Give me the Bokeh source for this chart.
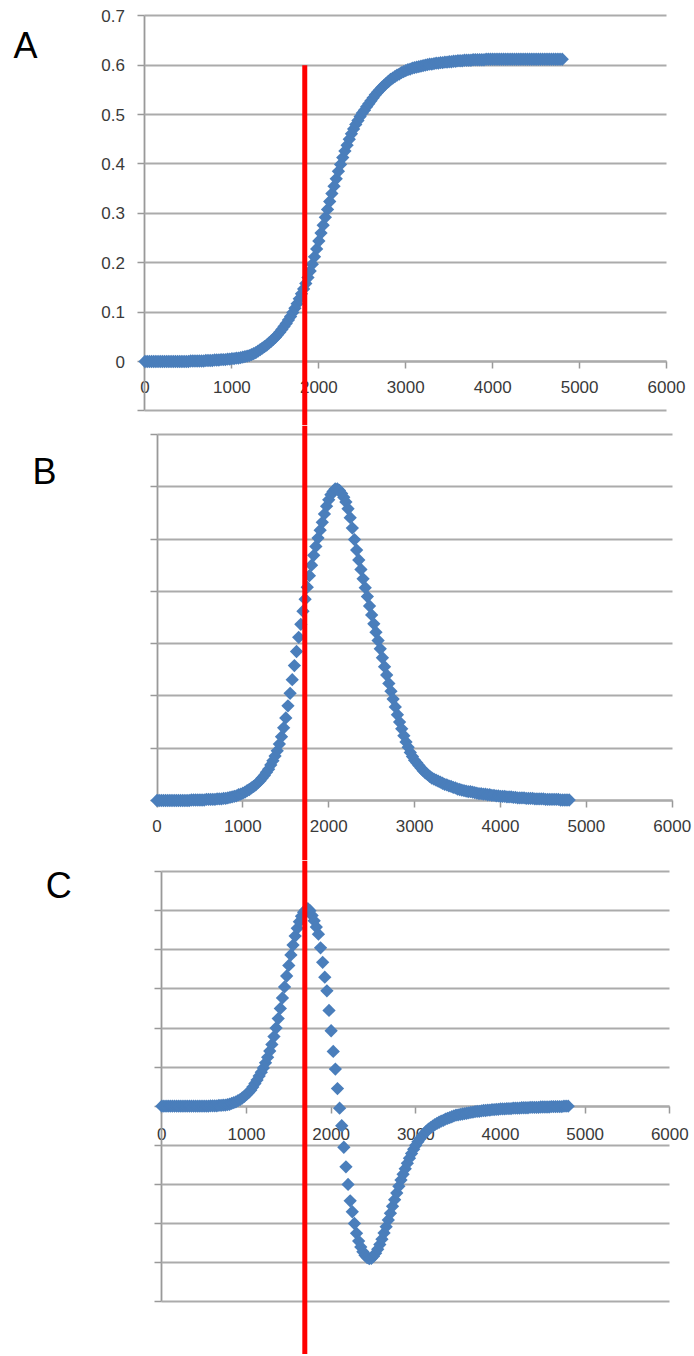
import math
from bokeh.plotting import figure
from bokeh.models import Range1d, FixedTicker, Span, Label, Grid
from bokeh.layouts import column
from bokeh.embed import file_html
from bokeh.resources import INLINE

# ---------------- data ----------------
x_vals = list(range(0, 4801, 25))

# Panel A: cumulative curve
a_vals = [
    0.000, 0.000, 0.000, 0.000, 0.000, 0.000, 0.000, 0.000, 0.000, 0.000,
    0.000, 0.000, 0.000, 0.000, 0.000, 0.000, 0.000, 0.000, 0.000, 0.000,
    0.000, 0.001, 0.001, 0.001, 0.001, 0.001, 0.001, 0.001, 0.002, 0.002,
    0.002, 0.002, 0.003, 0.003, 0.003, 0.004, 0.004, 0.004, 0.005, 0.005,
    0.006, 0.006, 0.007, 0.007, 0.008, 0.009, 0.010, 0.011, 0.012, 0.014,
    0.016, 0.018, 0.021, 0.024, 0.027, 0.030, 0.033, 0.037, 0.041, 0.045,
    0.049, 0.054, 0.059, 0.065, 0.071, 0.077, 0.084, 0.091, 0.099, 0.108,
    0.117, 0.127, 0.137, 0.147, 0.158, 0.170, 0.183, 0.197, 0.212, 0.228,
    0.244, 0.260, 0.276, 0.292, 0.308, 0.324, 0.340, 0.355, 0.370, 0.385,
    0.399, 0.413, 0.426, 0.438, 0.450, 0.461, 0.471, 0.480, 0.488, 0.496,
    0.503, 0.509, 0.516, 0.522, 0.528, 0.534, 0.540, 0.545, 0.550, 0.555,
    0.559, 0.563, 0.567, 0.571, 0.574, 0.577, 0.580, 0.582, 0.585, 0.587,
    0.589, 0.591, 0.592, 0.594, 0.595, 0.596, 0.597, 0.598, 0.599, 0.600,
    0.601, 0.602, 0.602, 0.603, 0.604, 0.604, 0.605, 0.605, 0.606, 0.606,
    0.607, 0.607, 0.608, 0.608, 0.609, 0.609, 0.609, 0.610, 0.610, 0.610,
    0.610, 0.611, 0.611, 0.611, 0.611, 0.611, 0.611, 0.612, 0.612, 0.612,
    0.612, 0.612, 0.612, 0.612, 0.612, 0.612, 0.612, 0.612, 0.612, 0.612,
    0.612, 0.612, 0.612, 0.612, 0.612, 0.612, 0.612, 0.612, 0.612, 0.612,
    0.612, 0.612, 0.612, 0.612, 0.612, 0.612, 0.612, 0.612, 0.612, 0.612,
    0.612, 0.612, 0.612,
]

# Panel B: first derivative (units of 1e-4)
b_vals = [
    0.00, 0.00, 0.00, 0.00, 0.00, 0.00, 0.00, 0.00, 0.00, 0.00,
    0.00, 0.00, 0.00, 0.00, 0.00, 0.00, 0.01, 0.01, 0.01, 0.01,
    0.01, 0.01, 0.01, 0.02, 0.02, 0.02, 0.02, 0.02, 0.03, 0.03,
    0.03, 0.04, 0.04, 0.05, 0.06, 0.07, 0.08, 0.09, 0.11, 0.12,
    0.14, 0.16, 0.19, 0.21, 0.24, 0.27, 0.30, 0.34, 0.38, 0.43,
    0.48, 0.54, 0.60, 0.68, 0.76, 0.85, 0.95, 1.08, 1.22, 1.39,
    1.58, 1.81, 2.05, 2.31, 2.58, 2.85, 3.12, 3.37, 3.62, 3.85,
    4.08, 4.30, 4.50, 4.69, 4.86, 5.02, 5.17, 5.32, 5.48, 5.63,
    5.75, 5.85, 5.91, 5.96, 5.96, 5.93, 5.87, 5.80, 5.71, 5.58,
    5.41, 5.21, 4.99, 4.79, 4.60, 4.42, 4.24, 4.07, 3.90, 3.72,
    3.55, 3.38, 3.22, 3.06, 2.90, 2.73, 2.56, 2.40, 2.24, 2.09,
    1.94, 1.79, 1.64, 1.50, 1.37, 1.24, 1.12, 1.02, 0.92, 0.84,
    0.77, 0.72, 0.67, 0.62, 0.57, 0.53, 0.50, 0.46, 0.43, 0.41,
    0.39, 0.37, 0.35, 0.33, 0.31, 0.30, 0.28, 0.27, 0.25, 0.24,
    0.22, 0.21, 0.20, 0.19, 0.18, 0.17, 0.17, 0.16, 0.15, 0.14,
    0.13, 0.13, 0.12, 0.12, 0.11, 0.11, 0.10, 0.10, 0.09, 0.09,
    0.08, 0.08, 0.08, 0.07, 0.07, 0.07, 0.06, 0.06, 0.05, 0.05,
    0.05, 0.05, 0.04, 0.04, 0.04, 0.04, 0.03, 0.03, 0.03, 0.03,
    0.03, 0.02, 0.02, 0.02, 0.02, 0.02, 0.02, 0.02, 0.01, 0.01,
    0.01, 0.01, 0.01,
]

# Panel C: second derivative (units of one gridline step)
c_vals = [
    0.00, 0.00, 0.00, 0.00, 0.00, 0.00, 0.00, 0.00, 0.00, 0.00,
    0.00, 0.00, 0.00, 0.00, 0.00, 0.00, 0.00, 0.00, 0.00, 0.00,
    0.00, 0.00, 0.00, 0.01, 0.01, 0.01, 0.01, 0.02, 0.02, 0.03,
    0.03, 0.04, 0.05, 0.07, 0.09, 0.11, 0.14, 0.17, 0.21, 0.25,
    0.30, 0.35, 0.41, 0.49, 0.58, 0.67, 0.77, 0.87, 0.98, 1.11,
    1.25, 1.41, 1.58, 1.78, 2.00, 2.24, 2.50, 2.77, 3.05, 3.33,
    3.60, 3.87, 4.12, 4.35, 4.55, 4.72, 4.86, 4.96, 5.02, 5.05,
    5.00, 4.88, 4.74, 4.58, 4.40, 4.05, 3.68, 3.30, 2.95, 2.45,
    1.93, 1.40, 0.95, 0.45, -0.05, -0.50, -1.05, -1.55, -2.00, -2.42,
    -2.70, -3.00, -3.25, -3.45, -3.60, -3.72, -3.81, -3.87, -3.90, -3.89,
    -3.84, -3.76, -3.66, -3.54, -3.40, -3.24, -3.08, -2.91, -2.74, -2.56,
    -2.39, -2.22, -2.05, -1.89, -1.74, -1.60, -1.46, -1.33, -1.21, -1.10,
    -1.00, -0.91, -0.83, -0.76, -0.70, -0.64, -0.59, -0.55, -0.51, -0.47,
    -0.44, -0.41, -0.38, -0.36, -0.33, -0.31, -0.29, -0.27, -0.25, -0.23,
    -0.22, -0.21, -0.20, -0.19, -0.18, -0.17, -0.16, -0.15, -0.14, -0.13,
    -0.13, -0.12, -0.11, -0.11, -0.10, -0.10, -0.09, -0.09, -0.08, -0.08,
    -0.07, -0.07, -0.07, -0.06, -0.06, -0.06, -0.05, -0.05, -0.05, -0.05,
    -0.04, -0.04, -0.04, -0.04, -0.03, -0.03, -0.03, -0.03, -0.03, -0.02,
    -0.02, -0.02, -0.02, -0.02, -0.01, -0.01, -0.01, -0.01, -0.01, -0.01,
    0.00, 0.00, 0.00,
]

x_ticks = [0, 1000, 2000, 3000, 4000, 5000, 6000]
x_labels = ["0", "1000", "2000", "3000", "4000", "5000", "6000"]

a_y_ticks = [0.0, 0.1, 0.2, 0.3, 0.4, 0.5, 0.6, 0.7]
a_y_labels = ["0", "0.1", "0.2", "0.3", "0.4", "0.5", "0.6", "0.7"]
a_grid = [-0.1, 0.0, 0.1, 0.2, 0.3, 0.4, 0.5, 0.6, 0.7]
b_grid = [0, 1, 2, 3, 4, 5, 6, 7]
c_grid = [-5, -4, -3, -2, -1, 0, 1, 2, 3, 4, 5, 6]

panel_names = ["A", "B", "C"]
red_marker_x = [1838, 1721, 1689]   # data x where the red line crosses each panel
red_start_a = 0.6                   # red line starts at y=0.6 in panel A

# ---------------- style ----------------
BLUE = "#4A7EBB"
GRID = "#ABABAB"
AXIS = "#999999"
TXT = "#3A3A3A"
FONT = "Liberation Sans"
W = 694
HAS_CROSS = "cross_bounds" in Grid.properties()


def make_panel(h, xr, yr, grid_vals, yvals, y_ticks=None, y_labels=None,
               y_bounds=None, x_standoff=12):
    p = figure(width=W, height=h, x_range=Range1d(*xr), y_range=Range1d(*yr),
               output_backend="svg", toolbar_location=None, title=None,
               min_border_left=0, min_border_right=0,
               min_border_top=0, min_border_bottom=0)
    p.outline_line_color = None
    p.background_fill_color = "white"
    p.border_fill_color = "white"

    # horizontal gridlines between x=0 and x=6000
    p.xgrid.visible = False
    if HAS_CROSS:
        p.ygrid.ticker = FixedTicker(ticks=grid_vals)
        p.ygrid.cross_bounds = (0, 6000)
        p.ygrid.grid_line_color = GRID
        p.ygrid.grid_line_width = 1.8
    else:
        p.ygrid.visible = False
        p.segment(x0=[0] * len(grid_vals), y0=grid_vals,
                  x1=[6000] * len(grid_vals), y1=grid_vals,
                  line_color=GRID, line_width=1.8, level="underlay")

    # x axis crossing at y=0
    xa = p.xaxis[0]
    xa.fixed_location = 0
    xa.ticker = FixedTicker(ticks=x_ticks)
    xa.major_label_overrides = dict(zip(x_ticks, x_labels))
    xa.bounds = (0, 6000)
    xa.axis_line_color = AXIS
    xa.axis_line_width = 1.8
    xa.major_tick_line_color = AXIS
    xa.major_tick_line_width = 1.5
    xa.major_tick_in = 0
    xa.major_tick_out = 7
    xa.minor_tick_line_color = None
    xa.major_label_standoff = x_standoff
    xa.major_label_text_font = FONT
    xa.major_label_text_font_size = "17px"
    xa.major_label_text_color = TXT
    xa.level = "underlay"

    # y axis crossing at x=0
    ya = p.yaxis[0]
    ya.fixed_location = 0
    if y_ticks is not None:
        ya.ticker = FixedTicker(ticks=y_ticks, minor_ticks=[g for g in grid_vals if g not in y_ticks])
        ya.major_label_overrides = dict(zip(y_ticks, y_labels))
    else:
        ya.ticker = FixedTicker(ticks=[], minor_ticks=grid_vals)
    ya.bounds = y_bounds
    ya.axis_line_color = AXIS
    ya.axis_line_width = 1.8
    ya.major_tick_line_color = AXIS
    ya.major_tick_line_width = 1.5
    ya.major_tick_in = 0
    ya.major_tick_out = 7
    ya.minor_tick_line_color = AXIS
    ya.minor_tick_line_width = 1.5
    ya.minor_tick_in = 0
    ya.minor_tick_out = 7
    ya.major_label_standoff = 13
    ya.major_label_text_font = FONT
    ya.major_label_text_font_size = "17px"
    ya.major_label_text_color = TXT
    ya.level = "underlay"

    p.scatter(x_vals, yvals, marker="square", angle=math.pi / 4, size=9.4,
              fill_color=BLUE, line_color=None)
    return p


# Panel A (page rows 0-425)
pA = make_panel(425, (-1662.4, 6321.9), (-0.12959, 0.73098), a_grid, a_vals,
                y_ticks=a_y_ticks, y_labels=a_y_labels, y_bounds=(-0.1, 0.7), x_standoff=12)
pA.segment(x0=[red_marker_x[0]], y0=[red_start_a], x1=[red_marker_x[0]], y1=[-0.2],
           line_color="#FF0000", line_width=5)
pA.add_layout(Label(x=-1513, y=0.6399, text=panel_names[0], text_font=FONT,
                    text_font_size="36px", text_color="black", text_baseline="alphabetic"))

# Panel B (page rows 425-860)
pB = make_panel(435, (-1822.6, 6259.7), (-1.1475, 7.1721), b_grid, b_vals,
                y_bounds=(0, 7), x_standoff=12)
pB.add_layout(Span(location=red_marker_x[1], dimension="height",
                   line_color="#FF0000", line_width=5))
pB.add_layout(Label(x=-1450, y=6.292, text=panel_names[1], text_font=FONT,
                    text_font_size="36px", text_color="black", text_baseline="alphabetic"))

# Panel C (page rows 860-1354)
pC = make_panel(494, (-1905.1, 6291.7), (-6.3504, 6.2839), c_grid, c_vals,
                y_bounds=(-5, 6), x_standoff=15)
pC.add_layout(Span(location=red_marker_x[2], dimension="height",
                   line_color="#FF0000", line_width=5))
pC.add_layout(Label(x=-1371, y=5.645, text=panel_names[2], text_font=FONT,
                    text_font_size="36px", text_color="black", text_baseline="alphabetic"))

layout = column(pA, pB, pC, spacing=0)
open("out.html", "w").write(file_html(layout, INLINE))
